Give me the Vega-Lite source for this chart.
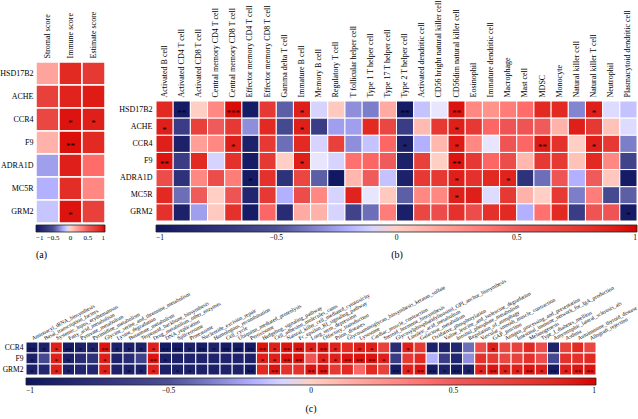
{
"$schema": "https://vega.github.io/schema/vega-lite/v6.json",
"width": 638, "height": 419,
"autosize": {"type": "none"},
"padding": 0,
"background": "white",
"config": {"view": {"stroke": null}, "font": "Liberation Serif",
  "axis": {"labelFont": "Liberation Serif", "labelColor": "black", "domain": false, "ticks": false, "grid": false, "labelOverlap": false, "labelLimit": 400},
  "legend": {"labelFont": "Liberation Serif", "titleFont": "Liberation Serif", "labelColor": "black", "titleColor": "black"}},
"datasets": {
"a": [
{"g":"HSD17B2","c":"Stromal score","r":0.18,"s":""},{"g":"HSD17B2","c":"Immune score","r":0.85,"s":""},{"g":"HSD17B2","c":"Estimate score","r":0.75,"s":""},
{"g":"ACHE","c":"Stromal score","r":0.7,"s":""},{"g":"ACHE","c":"Immune score","r":0.88,"s":""},{"g":"ACHE","c":"Estimate score","r":0.92,"s":""},
{"g":"CCR4","c":"Stromal score","r":0.65,"s":""},{"g":"CCR4","c":"Immune score","r":0.95,"s":"*"},{"g":"CCR4","c":"Estimate score","r":0.9,"s":"*"},
{"g":"F9","c":"Stromal score","r":0.12,"s":""},{"g":"F9","c":"Immune score","r":0.96,"s":"**"},{"g":"F9","c":"Estimate score","r":0.85,"s":""},
{"g":"ADRA1D","c":"Stromal score","r":-0.25,"s":""},{"g":"ADRA1D","c":"Immune score","r":0.9,"s":""},{"g":"ADRA1D","c":"Estimate score","r":0.42,"s":""},
{"g":"MC5R","c":"Stromal score","r":-0.2,"s":""},{"g":"MC5R","c":"Immune score","r":0.82,"s":""},{"g":"MC5R","c":"Estimate score","r":0.3,"s":""},
{"g":"GRM2","c":"Stromal score","r":-0.14,"s":""},{"g":"GRM2","c":"Immune score","r":0.95,"s":"*"},{"g":"GRM2","c":"Estimate score","r":0.7,"s":""}
],
"b": [
{"g":"HSD17B2","c":"Activated B cell","r":0.85,"s":""},{"g":"HSD17B2","c":"Activated CD4 T cell","r":-0.95,"s":"**"},{"g":"HSD17B2","c":"Activated CD8 T cell","r":0.0,"s":""},{"g":"HSD17B2","c":"Central memory CD4 T cell","r":0.3,"s":""},{"g":"HSD17B2","c":"Central memory CD8 T cell","r":0.97,"s":"***"},{"g":"HSD17B2","c":"Effector memory CD4 T cell","r":-0.95,"s":""},{"g":"HSD17B2","c":"Effector memory CD8 T cell","r":0.75,"s":""},{"g":"HSD17B2","c":"Gamma delta T cell","r":-0.45,"s":""},{"g":"HSD17B2","c":"Immature B cell","r":0.9,"s":"*"},{"g":"HSD17B2","c":"Memory B cell","r":-0.1,"s":""},{"g":"HSD17B2","c":"Regulatory T cell","r":0.02,"s":""},{"g":"HSD17B2","c":"T follicular helper cell","r":-0.3,"s":""},{"g":"HSD17B2","c":"Type 1 T helper cell","r":-0.35,"s":""},{"g":"HSD17B2","c":"Type 17 T helper cell","r":0.15,"s":""},{"g":"HSD17B2","c":"Type 2 T helper cell","r":-0.95,"s":"**"},{"g":"HSD17B2","c":"Activated dendritic cell","r":-0.15,"s":""},{"g":"HSD17B2","c":"CD56 bright natural killer cell","r":-0.05,"s":""},{"g":"HSD17B2","c":"CD56dim natural killer cell","r":0.95,"s":"**"},{"g":"HSD17B2","c":"Eosinophil","r":0.3,"s":""},{"g":"HSD17B2","c":"Immature dendritic cell","r":0.25,"s":""},{"g":"HSD17B2","c":"Macrophage","r":0.35,"s":""},{"g":"HSD17B2","c":"Mast cell","r":0.42,"s":""},{"g":"HSD17B2","c":"MDSC","r":0.85,"s":""},{"g":"HSD17B2","c":"Monocyte","r":0.85,"s":""},{"g":"HSD17B2","c":"Natural killer cell","r":-0.33,"s":""},{"g":"HSD17B2","c":"Natural killer T cell","r":0.9,"s":"*"},{"g":"HSD17B2","c":"Neutrophil","r":-0.08,"s":""},{"g":"HSD17B2","c":"Plasmacytoid dendritic cell","r":-0.15,"s":""},
{"g":"ACHE","c":"Activated B cell","r":0.9,"s":"*"},{"g":"ACHE","c":"Activated CD4 T cell","r":-0.65,"s":""},{"g":"ACHE","c":"Activated CD8 T cell","r":0.7,"s":""},{"g":"ACHE","c":"Central memory CD4 T cell","r":0.5,"s":""},{"g":"ACHE","c":"Central memory CD8 T cell","r":0.75,"s":""},{"g":"ACHE","c":"Effector memory CD4 T cell","r":-0.3,"s":""},{"g":"ACHE","c":"Effector memory CD8 T cell","r":0.85,"s":""},{"g":"ACHE","c":"Gamma delta T cell","r":-0.55,"s":""},{"g":"ACHE","c":"Immature B cell","r":0.9,"s":"*"},{"g":"ACHE","c":"Memory B cell","r":-0.65,"s":""},{"g":"ACHE","c":"Regulatory T cell","r":-0.25,"s":""},{"g":"ACHE","c":"T follicular helper cell","r":-0.25,"s":""},{"g":"ACHE","c":"Type 1 T helper cell","r":0.85,"s":""},{"g":"ACHE","c":"Type 17 T helper cell","r":0.65,"s":""},{"g":"ACHE","c":"Type 2 T helper cell","r":-0.65,"s":""},{"g":"ACHE","c":"Activated dendritic cell","r":0.08,"s":""},{"g":"ACHE","c":"CD56 bright natural killer cell","r":0.75,"s":""},{"g":"ACHE","c":"CD56dim natural killer cell","r":0.9,"s":"*"},{"g":"ACHE","c":"Eosinophil","r":0.75,"s":""},{"g":"ACHE","c":"Immature dendritic cell","r":0.45,"s":""},{"g":"ACHE","c":"Macrophage","r":0.55,"s":""},{"g":"ACHE","c":"Mast cell","r":0.55,"s":""},{"g":"ACHE","c":"MDSC","r":0.5,"s":""},{"g":"ACHE","c":"Monocyte","r":0.12,"s":""},{"g":"ACHE","c":"Natural killer cell","r":0.9,"s":""},{"g":"ACHE","c":"Natural killer T cell","r":0.75,"s":""},{"g":"ACHE","c":"Neutrophil","r":0.05,"s":""},{"g":"ACHE","c":"Plasmacytoid dendritic cell","r":-0.08,"s":""},
{"g":"CCR4","c":"Activated B cell","r":0.9,"s":""},{"g":"CCR4","c":"Activated CD4 T cell","r":-0.9,"s":""},{"g":"CCR4","c":"Activated CD8 T cell","r":0.2,"s":""},{"g":"CCR4","c":"Central memory CD4 T cell","r":0.3,"s":""},{"g":"CCR4","c":"Central memory CD8 T cell","r":0.9,"s":"*"},{"g":"CCR4","c":"Effector memory CD4 T cell","r":-0.9,"s":""},{"g":"CCR4","c":"Effector memory CD8 T cell","r":0.75,"s":""},{"g":"CCR4","c":"Gamma delta T cell","r":-0.4,"s":""},{"g":"CCR4","c":"Immature B cell","r":0.85,"s":""},{"g":"CCR4","c":"Memory B cell","r":-0.1,"s":""},{"g":"CCR4","c":"Regulatory T cell","r":0.7,"s":""},{"g":"CCR4","c":"T follicular helper cell","r":-0.3,"s":""},{"g":"CCR4","c":"Type 1 T helper cell","r":-0.15,"s":""},{"g":"CCR4","c":"Type 17 T helper cell","r":0.45,"s":""},{"g":"CCR4","c":"Type 2 T helper cell","r":-0.9,"s":"*"},{"g":"CCR4","c":"Activated dendritic cell","r":-0.2,"s":""},{"g":"CCR4","c":"CD56 bright natural killer cell","r":0.1,"s":""},{"g":"CCR4","c":"CD56dim natural killer cell","r":0.92,"s":"*"},{"g":"CCR4","c":"Eosinophil","r":0.3,"s":""},{"g":"CCR4","c":"Immature dendritic cell","r":-0.05,"s":""},{"g":"CCR4","c":"Macrophage","r":0.55,"s":""},{"g":"CCR4","c":"Mast cell","r":0.45,"s":""},{"g":"CCR4","c":"MDSC","r":0.92,"s":"**"},{"g":"CCR4","c":"Monocyte","r":0.8,"s":""},{"g":"CCR4","c":"Natural killer cell","r":0.0,"s":""},{"g":"CCR4","c":"Natural killer T cell","r":0.9,"s":"*"},{"g":"CCR4","c":"Neutrophil","r":0.75,"s":""},{"g":"CCR4","c":"Plasmacytoid dendritic cell","r":-0.35,"s":""},
{"g":"F9","c":"Activated B cell","r":0.95,"s":"**"},{"g":"F9","c":"Activated CD4 T cell","r":-0.65,"s":""},{"g":"F9","c":"Activated CD8 T cell","r":0.85,"s":""},{"g":"F9","c":"Central memory CD4 T cell","r":-0.1,"s":""},{"g":"F9","c":"Central memory CD8 T cell","r":0.8,"s":""},{"g":"F9","c":"Effector memory CD4 T cell","r":-0.95,"s":""},{"g":"F9","c":"Effector memory CD8 T cell","r":0.75,"s":""},{"g":"F9","c":"Gamma delta T cell","r":0.0,"s":""},{"g":"F9","c":"Immature B cell","r":0.9,"s":"*"},{"g":"F9","c":"Memory B cell","r":-0.05,"s":""},{"g":"F9","c":"Regulatory T cell","r":-0.1,"s":""},{"g":"F9","c":"T follicular helper cell","r":0.4,"s":""},{"g":"F9","c":"Type 1 T helper cell","r":0.45,"s":""},{"g":"F9","c":"Type 17 T helper cell","r":0.5,"s":""},{"g":"F9","c":"Type 2 T helper cell","r":-0.9,"s":""},{"g":"F9","c":"Activated dendritic cell","r":0.7,"s":""},{"g":"F9","c":"CD56 bright natural killer cell","r":0.0,"s":""},{"g":"F9","c":"CD56dim natural killer cell","r":0.95,"s":"**"},{"g":"F9","c":"Eosinophil","r":0.75,"s":""},{"g":"F9","c":"Immature dendritic cell","r":0.45,"s":""},{"g":"F9","c":"Macrophage","r":0.6,"s":""},{"g":"F9","c":"Mast cell","r":0.1,"s":""},{"g":"F9","c":"MDSC","r":0.75,"s":""},{"g":"F9","c":"Monocyte","r":0.75,"s":""},{"g":"F9","c":"Natural killer cell","r":0.05,"s":""},{"g":"F9","c":"Natural killer T cell","r":0.85,"s":""},{"g":"F9","c":"Neutrophil","r":0.3,"s":""},{"g":"F9","c":"Plasmacytoid dendritic cell","r":-0.6,"s":""},
{"g":"ADRA1D","c":"Activated B cell","r":0.6,"s":""},{"g":"ADRA1D","c":"Activated CD4 T cell","r":-0.75,"s":""},{"g":"ADRA1D","c":"Activated CD8 T cell","r":0.3,"s":""},{"g":"ADRA1D","c":"Central memory CD4 T cell","r":0.6,"s":""},{"g":"ADRA1D","c":"Central memory CD8 T cell","r":0.35,"s":""},{"g":"ADRA1D","c":"Effector memory CD4 T cell","r":-0.95,"s":"*"},{"g":"ADRA1D","c":"Effector memory CD8 T cell","r":0.8,"s":""},{"g":"ADRA1D","c":"Gamma delta T cell","r":-0.75,"s":""},{"g":"ADRA1D","c":"Immature B cell","r":0.65,"s":""},{"g":"ADRA1D","c":"Memory B cell","r":-0.45,"s":""},{"g":"ADRA1D","c":"Regulatory T cell","r":-0.97,"s":""},{"g":"ADRA1D","c":"T follicular helper cell","r":0.1,"s":""},{"g":"ADRA1D","c":"Type 1 T helper cell","r":0.5,"s":""},{"g":"ADRA1D","c":"Type 17 T helper cell","r":-0.15,"s":""},{"g":"ADRA1D","c":"Type 2 T helper cell","r":-0.9,"s":""},{"g":"ADRA1D","c":"Activated dendritic cell","r":0.75,"s":""},{"g":"ADRA1D","c":"CD56 bright natural killer cell","r":0.75,"s":""},{"g":"ADRA1D","c":"CD56dim natural killer cell","r":0.9,"s":"*"},{"g":"ADRA1D","c":"Eosinophil","r":0.8,"s":""},{"g":"ADRA1D","c":"Immature dendritic cell","r":0.85,"s":""},{"g":"ADRA1D","c":"Macrophage","r":0.88,"s":"*"},{"g":"ADRA1D","c":"Mast cell","r":-0.75,"s":""},{"g":"ADRA1D","c":"MDSC","r":-0.4,"s":""},{"g":"ADRA1D","c":"Monocyte","r":0.55,"s":""},{"g":"ADRA1D","c":"Natural killer cell","r":-0.2,"s":""},{"g":"ADRA1D","c":"Natural killer T cell","r":0.5,"s":""},{"g":"ADRA1D","c":"Neutrophil","r":0.03,"s":""},{"g":"ADRA1D","c":"Plasmacytoid dendritic cell","r":-0.95,"s":""},
{"g":"MC5R","c":"Activated B cell","r":0.85,"s":""},{"g":"MC5R","c":"Activated CD4 T cell","r":-0.4,"s":""},{"g":"MC5R","c":"Activated CD8 T cell","r":0.5,"s":""},{"g":"MC5R","c":"Central memory CD4 T cell","r":0.0,"s":""},{"g":"MC5R","c":"Central memory CD8 T cell","r":0.55,"s":""},{"g":"MC5R","c":"Effector memory CD4 T cell","r":-0.85,"s":""},{"g":"MC5R","c":"Effector memory CD8 T cell","r":0.75,"s":""},{"g":"MC5R","c":"Gamma delta T cell","r":-0.2,"s":""},{"g":"MC5R","c":"Immature B cell","r":0.6,"s":""},{"g":"MC5R","c":"Memory B cell","r":0.3,"s":""},{"g":"MC5R","c":"Regulatory T cell","r":-0.1,"s":""},{"g":"MC5R","c":"T follicular helper cell","r":0.88,"s":""},{"g":"MC5R","c":"Type 1 T helper cell","r":-0.05,"s":""},{"g":"MC5R","c":"Type 17 T helper cell","r":0.02,"s":""},{"g":"MC5R","c":"Type 2 T helper cell","r":-0.45,"s":""},{"g":"MC5R","c":"Activated dendritic cell","r":0.3,"s":""},{"g":"MC5R","c":"CD56 bright natural killer cell","r":0.3,"s":""},{"g":"MC5R","c":"CD56dim natural killer cell","r":0.9,"s":"*"},{"g":"MC5R","c":"Eosinophil","r":0.9,"s":""},{"g":"MC5R","c":"Immature dendritic cell","r":-0.08,"s":""},{"g":"MC5R","c":"Macrophage","r":0.75,"s":""},{"g":"MC5R","c":"Mast cell","r":0.12,"s":""},{"g":"MC5R","c":"MDSC","r":0.0,"s":""},{"g":"MC5R","c":"Monocyte","r":0.75,"s":""},{"g":"MC5R","c":"Natural killer cell","r":-0.35,"s":""},{"g":"MC5R","c":"Natural killer T cell","r":0.35,"s":""},{"g":"MC5R","c":"Neutrophil","r":-0.55,"s":""},{"g":"MC5R","c":"Plasmacytoid dendritic cell","r":-0.45,"s":""},
{"g":"GRM2","c":"Activated B cell","r":0.8,"s":""},{"g":"GRM2","c":"Activated CD4 T cell","r":-0.9,"s":""},{"g":"GRM2","c":"Activated CD8 T cell","r":-0.25,"s":""},{"g":"GRM2","c":"Central memory CD4 T cell","r":0.02,"s":""},{"g":"GRM2","c":"Central memory CD8 T cell","r":0.8,"s":""},{"g":"GRM2","c":"Effector memory CD4 T cell","r":-0.95,"s":""},{"g":"GRM2","c":"Effector memory CD8 T cell","r":0.45,"s":""},{"g":"GRM2","c":"Gamma delta T cell","r":-0.8,"s":""},{"g":"GRM2","c":"Immature B cell","r":0.15,"s":""},{"g":"GRM2","c":"Memory B cell","r":0.12,"s":""},{"g":"GRM2","c":"Regulatory T cell","r":-0.1,"s":""},{"g":"GRM2","c":"T follicular helper cell","r":-0.6,"s":""},{"g":"GRM2","c":"Type 1 T helper cell","r":-0.4,"s":""},{"g":"GRM2","c":"Type 17 T helper cell","r":0.35,"s":""},{"g":"GRM2","c":"Type 2 T helper cell","r":-0.92,"s":""},{"g":"GRM2","c":"Activated dendritic cell","r":0.65,"s":""},{"g":"GRM2","c":"CD56 bright natural killer cell","r":0.6,"s":""},{"g":"GRM2","c":"CD56dim natural killer cell","r":0.8,"s":""},{"g":"GRM2","c":"Eosinophil","r":0.6,"s":""},{"g":"GRM2","c":"Immature dendritic cell","r":0.8,"s":""},{"g":"GRM2","c":"Macrophage","r":0.85,"s":""},{"g":"GRM2","c":"Mast cell","r":-0.2,"s":""},{"g":"GRM2","c":"MDSC","r":0.4,"s":""},{"g":"GRM2","c":"Monocyte","r":0.85,"s":""},{"g":"GRM2","c":"Natural killer cell","r":-0.65,"s":""},{"g":"GRM2","c":"Natural killer T cell","r":0.55,"s":""},{"g":"GRM2","c":"Neutrophil","r":0.55,"s":""},{"g":"GRM2","c":"Plasmacytoid dendritic cell","r":-0.95,"s":"*"}
],
"c": [
{"g":"CCR4","c":"Aminoacyl_tRNA_biosynthesis","r":-0.95,"s":"**"},{"g":"CCR4","c":"Basal_transcription_factors","r":-0.9,"s":"*"},{"g":"CCR4","c":"Systemic_lupus_erythematosus","r":0.9,"s":"*"},{"g":"CCR4","c":"Fatty_acid_metabolism","r":-0.95,"s":"**"},{"g":"CCR4","c":"Pyruvate_metabolism","r":-0.9,"s":"*"},{"g":"CCR4","c":"Pyrimidine_metabolism","r":-0.9,"s":"*"},{"g":"CCR4","c":"Glycine_serine_and_threonine_metabolism","r":0.95,"s":"**"},{"g":"CCR4","c":"Lysine_degradation","r":-0.9,"s":"*"},{"g":"CCR4","c":"Butanoate_metabolism","r":-0.9,"s":"*"},{"g":"CCR4","c":"Terpenoid_backbone_biosynthesis","r":-0.9,"s":"*"},{"g":"CCR4","c":"Drug_metabolism_other_enzymes","r":0.9,"s":"*"},{"g":"CCR4","c":"DNA_replication","r":-0.95,"s":"**"},{"g":"CCR4","c":"Spliceosome","r":-0.95,"s":"**"},{"g":"CCR4","c":"Proteasome","r":-0.9,"s":"*"},{"g":"CCR4","c":"Nucleotide_excision_repair","r":-0.95,"s":"**"},{"g":"CCR4","c":"Homologous_recombination","r":-0.9,"s":"*"},{"g":"CCR4","c":"Cell_cycle","r":-0.95,"s":"**"},{"g":"CCR4","c":"Ubiquitin_mediated_proteolysis","r":-0.95,"s":"**"},{"g":"CCR4","c":"Peroxisome","r":-0.95,"s":"**"},{"g":"CCR4","c":"Hedgehog_signaling_pathway","r":0.95,"s":"**"},{"g":"CCR4","c":"Cell_adhesion_molecules_cams","r":0.9,"s":"*"},{"g":"CCR4","c":"Natural_killer_cell_mediated_cytotoxicity","r":0.95,"s":"**"},{"g":"CCR4","c":"Fc_epsilon_RI_signaling_pathway","r":0.95,"s":"**"},{"g":"CCR4","c":"Long_term_depression","r":0.9,"s":"*"},{"g":"CCR4","c":"Olfactory_transduction","r":0.95,"s":"**"},{"g":"CCR4","c":"Prion_diseases","r":0.9,"s":"*"},{"g":"CCR4","c":"Glycosaminoglycan_biosynthesis_keratan_sulfate","r":0.85,"s":""},{"g":"CCR4","c":"Lysosome","r":0.9,"s":"*"},{"g":"CCR4","c":"Cardiac_muscle_contraction","r":0.9,"s":"*"},{"g":"CCR4","c":"Steroid_hormone_biosynthesis","r":0.7,"s":""},{"g":"CCR4","c":"Glycosylphosphatidylinositol_GPI_anchor_biosynthesis","r":-0.8,"s":""},{"g":"CCR4","c":"Linoleic_acid_metabolism","r":0.9,"s":"*"},{"g":"CCR4","c":"Galactose_metabolism","r":0.75,"s":""},{"g":"CCR4","c":"Oxidative_phosphorylation","r":-0.9,"s":""},{"g":"CCR4","c":"Valine_leucine_and_isoleucine_degradation","r":-0.9,"s":""},{"g":"CCR4","c":"Inositol_phosphate_metabolism","r":-0.85,"s":""},{"g":"CCR4","c":"Regulation_of_autophagy","r":-0.4,"s":""},{"g":"CCR4","c":"Vascular_smooth_muscle_contraction","r":0.6,"s":""},{"g":"CCR4","c":"GAP_junction","r":0.9,"s":"*"},{"g":"CCR4","c":"Antigen_processing_and_presentation","r":0.65,"s":""},{"g":"CCR4","c":"Intestinal_immune_network_for_IgA_production","r":0.7,"s":""},{"g":"CCR4","c":"Melanogenesis","r":0.85,"s":""},{"g":"CCR4","c":"Type_I_diabetes_mellitus","r":0.6,"s":""},{"g":"CCR4","c":"Amyotrophic_lateral_sclerosis_als","r":-0.9,"s":""},{"g":"CCR4","c":"Asthma","r":0.7,"s":""},{"g":"CCR4","c":"Autoimmune_thyroid_disease","r":0.85,"s":""},{"g":"CCR4","c":"Allograft_rejection","r":0.65,"s":""},
{"g":"F9","c":"Aminoacyl_tRNA_biosynthesis","r":-0.9,"s":"*"},{"g":"F9","c":"Basal_transcription_factors","r":-0.55,"s":""},{"g":"F9","c":"Systemic_lupus_erythematosus","r":0.9,"s":"*"},{"g":"F9","c":"Fatty_acid_metabolism","r":-0.9,"s":"*"},{"g":"F9","c":"Pyruvate_metabolism","r":-0.8,"s":""},{"g":"F9","c":"Pyrimidine_metabolism","r":-0.75,"s":""},{"g":"F9","c":"Glycine_serine_and_threonine_metabolism","r":0.9,"s":"*"},{"g":"F9","c":"Lysine_degradation","r":-0.88,"s":""},{"g":"F9","c":"Butanoate_metabolism","r":-0.8,"s":""},{"g":"F9","c":"Terpenoid_backbone_biosynthesis","r":-0.6,"s":""},{"g":"F9","c":"Drug_metabolism_other_enzymes","r":0.95,"s":"**"},{"g":"F9","c":"DNA_replication","r":-0.9,"s":"*"},{"g":"F9","c":"Spliceosome","r":-0.9,"s":""},{"g":"F9","c":"Proteasome","r":-0.88,"s":""},{"g":"F9","c":"Nucleotide_excision_repair","r":-0.88,"s":""},{"g":"F9","c":"Homologous_recombination","r":-0.88,"s":""},{"g":"F9","c":"Cell_cycle","r":-0.88,"s":""},{"g":"F9","c":"Ubiquitin_mediated_proteolysis","r":-0.88,"s":""},{"g":"F9","c":"Peroxisome","r":-0.9,"s":""},{"g":"F9","c":"Hedgehog_signaling_pathway","r":0.9,"s":"*"},{"g":"F9","c":"Cell_adhesion_molecules_cams","r":0.9,"s":"*"},{"g":"F9","c":"Natural_killer_cell_mediated_cytotoxicity","r":0.95,"s":"**"},{"g":"F9","c":"Fc_epsilon_RI_signaling_pathway","r":0.95,"s":"**"},{"g":"F9","c":"Long_term_depression","r":0.55,"s":""},{"g":"F9","c":"Olfactory_transduction","r":0.9,"s":"*"},{"g":"F9","c":"Prion_diseases","r":0.9,"s":"*"},{"g":"F9","c":"Glycosaminoglycan_biosynthesis_keratan_sulfate","r":0.95,"s":"**"},{"g":"F9","c":"Lysosome","r":0.95,"s":"**"},{"g":"F9","c":"Cardiac_muscle_contraction","r":0.95,"s":"**"},{"g":"F9","c":"Steroid_hormone_biosynthesis","r":0.9,"s":"*"},{"g":"F9","c":"Glycosylphosphatidylinositol_GPI_anchor_biosynthesis","r":-0.65,"s":""},{"g":"F9","c":"Linoleic_acid_metabolism","r":0.75,"s":""},{"g":"F9","c":"Galactose_metabolism","r":0.85,"s":""},{"g":"F9","c":"Oxidative_phosphorylation","r":-0.2,"s":""},{"g":"F9","c":"Valine_leucine_and_isoleucine_degradation","r":-0.65,"s":""},{"g":"F9","c":"Inositol_phosphate_metabolism","r":-0.85,"s":""},{"g":"F9","c":"Regulation_of_autophagy","r":-0.3,"s":""},{"g":"F9","c":"Vascular_smooth_muscle_contraction","r":0.8,"s":""},{"g":"F9","c":"GAP_junction","r":0.75,"s":""},{"g":"F9","c":"Antigen_processing_and_presentation","r":0.65,"s":""},{"g":"F9","c":"Intestinal_immune_network_for_IgA_production","r":0.7,"s":""},{"g":"F9","c":"Melanogenesis","r":0.8,"s":""},{"g":"F9","c":"Type_I_diabetes_mellitus","r":0.6,"s":""},{"g":"F9","c":"Amyotrophic_lateral_sclerosis_als","r":-0.55,"s":""},{"g":"F9","c":"Asthma","r":0.8,"s":""},{"g":"F9","c":"Autoimmune_thyroid_disease","r":0.8,"s":""},{"g":"F9","c":"Allograft_rejection","r":0.85,"s":""},
{"g":"GRM2","c":"Aminoacyl_tRNA_biosynthesis","r":-0.9,"s":"*"},{"g":"GRM2","c":"Basal_transcription_factors","r":-0.85,"s":""},{"g":"GRM2","c":"Systemic_lupus_erythematosus","r":0.9,"s":"*"},{"g":"GRM2","c":"Fatty_acid_metabolism","r":-0.9,"s":"*"},{"g":"GRM2","c":"Pyruvate_metabolism","r":-0.85,"s":""},{"g":"GRM2","c":"Pyrimidine_metabolism","r":-0.85,"s":""},{"g":"GRM2","c":"Glycine_serine_and_threonine_metabolism","r":0.9,"s":"*"},{"g":"GRM2","c":"Lysine_degradation","r":-0.9,"s":""},{"g":"GRM2","c":"Butanoate_metabolism","r":-0.9,"s":"*"},{"g":"GRM2","c":"Terpenoid_backbone_biosynthesis","r":-0.9,"s":"*"},{"g":"GRM2","c":"Drug_metabolism_other_enzymes","r":0.9,"s":"*"},{"g":"GRM2","c":"DNA_replication","r":-0.9,"s":""},{"g":"GRM2","c":"Spliceosome","r":-0.9,"s":"*"},{"g":"GRM2","c":"Proteasome","r":-0.9,"s":"*"},{"g":"GRM2","c":"Nucleotide_excision_repair","r":-0.9,"s":""},{"g":"GRM2","c":"Homologous_recombination","r":-0.9,"s":""},{"g":"GRM2","c":"Cell_cycle","r":-0.9,"s":""},{"g":"GRM2","c":"Ubiquitin_mediated_proteolysis","r":-0.9,"s":""},{"g":"GRM2","c":"Peroxisome","r":-0.95,"s":"**"},{"g":"GRM2","c":"Hedgehog_signaling_pathway","r":0.85,"s":""},{"g":"GRM2","c":"Cell_adhesion_molecules_cams","r":0.95,"s":"**"},{"g":"GRM2","c":"Natural_killer_cell_mediated_cytotoxicity","r":0.8,"s":""},{"g":"GRM2","c":"Fc_epsilon_RI_signaling_pathway","r":0.8,"s":""},{"g":"GRM2","c":"Long_term_depression","r":0.95,"s":"**"},{"g":"GRM2","c":"Olfactory_transduction","r":0.95,"s":"**"},{"g":"GRM2","c":"Prion_diseases","r":0.75,"s":""},{"g":"GRM2","c":"Glycosaminoglycan_biosynthesis_keratan_sulfate","r":0.85,"s":""},{"g":"GRM2","c":"Lysosome","r":0.45,"s":""},{"g":"GRM2","c":"Cardiac_muscle_contraction","r":0.85,"s":""},{"g":"GRM2","c":"Steroid_hormone_biosynthesis","r":0.7,"s":""},{"g":"GRM2","c":"Glycosylphosphatidylinositol_GPI_anchor_biosynthesis","r":-0.95,"s":"**"},{"g":"GRM2","c":"Linoleic_acid_metabolism","r":0.9,"s":"*"},{"g":"GRM2","c":"Galactose_metabolism","r":0.95,"s":"**"},{"g":"GRM2","c":"Oxidative_phosphorylation","r":-0.95,"s":"**"},{"g":"GRM2","c":"Valine_leucine_and_isoleucine_degradation","r":-0.9,"s":"*"},{"g":"GRM2","c":"Inositol_phosphate_metabolism","r":-0.95,"s":"**"},{"g":"GRM2","c":"Regulation_of_autophagy","r":-0.9,"s":"*"},{"g":"GRM2","c":"Vascular_smooth_muscle_contraction","r":0.9,"s":"*"},{"g":"GRM2","c":"GAP_junction","r":0.95,"s":"**"},{"g":"GRM2","c":"Antigen_processing_and_presentation","r":0.9,"s":"*"},{"g":"GRM2","c":"Intestinal_immune_network_for_IgA_production","r":0.9,"s":"*"},{"g":"GRM2","c":"Melanogenesis","r":0.95,"s":"**"},{"g":"GRM2","c":"Type_I_diabetes_mellitus","r":0.9,"s":"*"},{"g":"GRM2","c":"Amyotrophic_lateral_sclerosis_als","r":-0.95,"s":"**"},{"g":"GRM2","c":"Asthma","r":0.9,"s":"*"},{"g":"GRM2","c":"Autoimmune_thyroid_disease","r":0.95,"s":"**"},{"g":"GRM2","c":"Allograft_rejection","r":0.95,"s":"**"}
]
},
"layer": [
{
 "data": {"name": "a"},
 "encoding": {
  "x": {"field": "c", "type": "nominal", "sort": null, "scale": {"range": [36, 105], "paddingInner": 0, "paddingOuter": 0},
        "axis": {"orient": "top", "offset": -62, "title": null, "labelAngle": -90, "labelAlign": "left", "labelBaseline": "middle", "labelPadding": 4, "labelFontSize": 8, "labelLimit": 300}},
  "y": {"field": "g", "type": "nominal", "sort": null, "scale": {"range": [62, 223], "paddingInner": 0, "paddingOuter": 0},
        "axis": {"orient": "left", "offset": -36, "title": null, "labelPadding": 3, "labelFontSize": 8, "labelLimit": 300}}
 },
 "layer": [
  {"mark": {"type": "rect", "stroke": "white", "strokeWidth": 1.5},
   "encoding": {"color": {"field": "r", "type": "quantitative",
     "scale": {"type": "linear", "domain": [-1, -0.5, 0, 0.5, 1], "range": ["#0d1660", "#4b4f95", "#ffffff", "#ef5a5a", "#d90000"]},
     "legend": {"orient": "none", "legendX": 36, "legendY": 225, "direction": "horizontal", "gradientLength": 69, "gradientThickness": 7, "padding": 0,
       "title": "\u00a0\u00a0\u00a0\u00a0(a)", "titleOrient": "bottom", "titleAnchor": "start", "titleFontSize": 10, "titleFontWeight": "normal", "titlePadding": 9,
       "values": [-1, -0.5, 0, 0.5, 1], "format": "~g", "labelFontSize": 7, "labelOverlap": false, "labelAlign": "center", "gradientStrokeColor": "#222", "gradientStrokeWidth": 0.8}}}},
  {"mark": {"type": "text", "fontSize": 9, "dy": 3, "font": "Liberation Serif", "color": "black"},
   "encoding": {"text": {"field": "s"}}}
 ]
},
{
 "data": {"name": "b"},
 "encoding": {
  "x": {"field": "c", "type": "nominal", "sort": null, "scale": {"range": [156, 637], "paddingInner": 0, "paddingOuter": 0},
        "axis": {"orient": "top", "offset": -101, "title": null, "labelAngle": -90, "labelAlign": "left", "labelBaseline": "middle", "labelPadding": 4, "labelFontSize": 8, "labelLimit": 300}},
  "y": {"field": "g", "type": "nominal", "sort": null, "scale": {"range": [101, 221], "paddingInner": 0, "paddingOuter": 0},
        "axis": {"orient": "left", "offset": -156, "title": null, "labelPadding": 4, "labelFontSize": 8, "labelLimit": 300}}
 },
 "layer": [
  {"mark": {"type": "rect", "stroke": "white", "strokeWidth": 1},
   "encoding": {"color": {"field": "r", "type": "quantitative",
     "scale": {"type": "linear", "domain": [-1, -0.5, 0, 0.5, 1], "range": ["#0d1660", "#4b4f95", "#ffffff", "#ef5a5a", "#d90000"]},
     "legend": {"orient": "none", "legendX": 156, "legendY": 225, "direction": "horizontal", "gradientLength": 481, "gradientThickness": 7, "padding": 0,
       "title": "(b)\u00a0\u00a0\u00a0\u00a0\u00a0\u00a0\u00a0\u00a0\u00a0\u00a0\u00a0\u00a0\u00a0\u00a0\u00a0\u00a0\u00a0\u00a0", "titleOrient": "bottom", "titleAnchor": "middle", "titleFontSize": 10, "titleFontWeight": "normal", "titlePadding": 8,
       "values": [-1, -0.5, 0, 0.5, 1], "format": "~g", "labelFontSize": 7.5, "labelOverlap": false, "labelAlign": "center", "gradientStrokeColor": "#222", "gradientStrokeWidth": 0.8}}}},
  {"mark": {"type": "text", "fontSize": 9, "dy": 3, "font": "Liberation Serif", "color": "black"},
   "encoding": {"text": {"field": "s"}}}
 ]
},
{
 "data": {"name": "c"},
 "encoding": {
  "x": {"field": "c", "type": "nominal", "sort": null, "scale": {"range": [26, 596], "paddingInner": 0, "paddingOuter": 0},
        "axis": {"orient": "top", "offset": -342, "title": null, "labelAngle": -28, "labelAlign": "left", "labelBaseline": "middle", "labelPadding": 4, "labelFontSize": 5.5, "labelLimit": 300}},
  "y": {"field": "g", "type": "nominal", "sort": null, "scale": {"range": [342, 375], "paddingInner": 0, "paddingOuter": 0},
        "axis": {"orient": "left", "offset": -26, "title": null, "labelPadding": 3, "labelFontSize": 7.5, "labelLimit": 300}}
 },
 "layer": [
  {"mark": {"type": "rect", "stroke": "white", "strokeWidth": 1},
   "encoding": {"color": {"field": "r", "type": "quantitative",
     "scale": {"type": "linear", "domain": [-1, -0.5, 0, 0.5, 1], "range": ["#0d1660", "#4b4f95", "#ffffff", "#ef5a5a", "#d90000"]},
     "legend": {"orient": "none", "legendX": 26, "legendY": 378, "direction": "horizontal", "gradientLength": 570, "gradientThickness": 7, "padding": 0,
       "title": "\u00a0\u00a0\u00a0\u00a0(c)", "titleOrient": "bottom", "titleAnchor": "middle", "titleFontSize": 10, "titleFontWeight": "normal", "titlePadding": 9,
       "values": [-1, -0.5, 0, 0.5, 1], "format": "~g", "labelFontSize": 7.5, "labelOverlap": false, "labelAlign": "center", "gradientStrokeColor": "#222", "gradientStrokeWidth": 0.8}}}},
  {"mark": {"type": "text", "fontSize": 7, "dy": 2.5, "font": "Liberation Serif", "color": "black"},
   "encoding": {"text": {"field": "s"}}}
 ]
}
],
"resolve": {"scale": {"x": "independent", "y": "independent", "color": "independent"}}
}
